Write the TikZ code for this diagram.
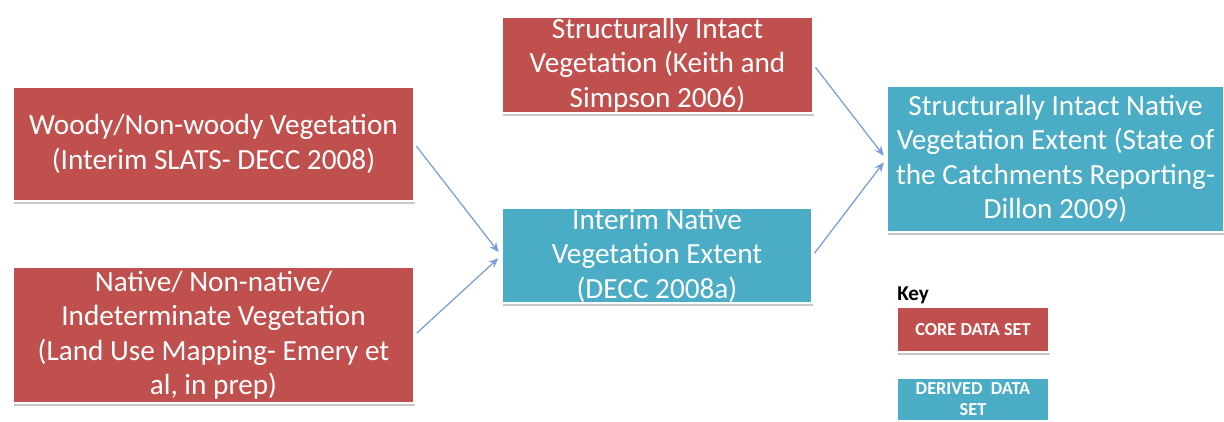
\documentclass[tikz,border=0pt]{standalone}
\usepackage{fontspec}
\setmainfont{Carlito}
\usetikzlibrary{arrows.meta,shadows}
\definecolor{coredata}{HTML}{C0504D}
\definecolor{deriveddata}{HTML}{4BACC6}
\definecolor{linkblue}{HTML}{7B9FD4}
\tikzstyle{box}=[rectangle, draw=white, line width=1pt, text=white, align=center, inner sep=0pt, anchor=center, font=\fontsize{20.8}{24.5}\selectfont, drop shadow={shadow xshift=0.6pt, shadow yshift=-2pt, fill=black!22, opacity=1}]
\tikzstyle{core}=[box, fill=coredata]
\tikzstyle{derived}=[box, fill=deriveddata]
\tikzstyle{keybox}=[font=\fontsize{13}{15}\selectfont\bfseries, minimum width=3.8cm]
\tikzstyle{annot}=[align=left, inner sep=0pt, font=\fontsize{15}{17}\selectfont\bfseries]
\tikzstyle{feed}=[draw=linkblue, line width=0.9pt, -{Stealth[length=7pt, width=6pt, inset=2.5pt]}, shorten <=2pt, shorten >=3pt]

\begin{document}
\begin{tikzpicture}
	\useasboundingbox (0,0) rectangle (30.6,10.525);

	% core data sets
	\node[core, minimum width=10.025cm, minimum height=2.85cm](woody) at (5.3375,6.925){Woody/Non-woody Vegetation\\(Interim SLATS- DECC 2008)};
	\node[core, minimum width=10.025cm, minimum height=3.4cm](native) at (5.3375,2.15){Native/ Non-native/\\Indeterminate Vegetation\\(Land Use Mapping- Emery et\\al, in prep)};
	\node[core, minimum width=7.775cm, minimum height=2.4cm](intact) at (16.4375,8.9){Structurally Intact\\Vegetation (Keith and\\Simpson 2006)};

	% derived data sets
	\node[derived, minimum width=7.75cm, minimum height=2.375cm](interim) at (16.425,4.1375){Interim Native\\Vegetation Extent\\(DECC 2008a)};
	\node[derived, minimum width=8.425cm, minimum height=3.65cm](extent) at (26.3875,6.55){Structurally Intact Native\\Vegetation Extent (State of\\the Catchments Reporting-\\Dillon 2009)};

	\draw[feed] (woody.east) -- (interim.west);
	\draw[feed] (native.east) -- (interim.west);
	\draw[feed] (intact.east) -- (extent.west);
	\draw[feed] (interim.east) -- (extent.west);

	% key
	\node[annot, anchor=base west](key) at (22.425,3.025){Key};
	\node[core, keybox, minimum height=1.125cm](keycore) at (24.325,2.2875){CORE DATA SET};
	\node[derived, keybox, minimum height=1.075cm, drop shadow={opacity=0}](keyderived) at (24.325,0.5375){DERIVED\ \ DATA\\SET};

\end{tikzpicture}
\end{document}
